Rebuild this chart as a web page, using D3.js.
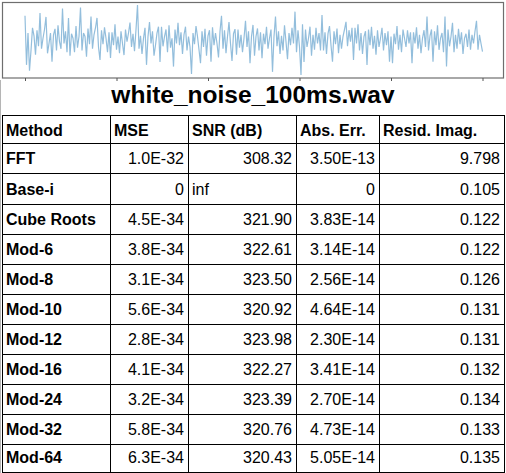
<!DOCTYPE html>
<html>
<head>
<meta charset="utf-8">
<script src="https://cdn.jsdelivr.net/npm/d3@7"></script>
<style>
  body { margin: 0; background: #fff; }
  text { font-family: "Liberation Sans", Arial, sans-serif; }
</style>
</head>
<body>
<div id="chart"></div>
<script>
// waveform amplitude (roughly one sample every 1.5 px)
const waveform = [
    0.69, -0.71, 0.20, -0.88, -0.30, 0.35, 0.12, -0.42, 0.28, -0.18,
    0.77, -0.25, 0.05, 0.30, 0.66, -0.38, -0.10, 0.20, -0.62, 0.15,
    0.32, -0.30, 0.42, -0.05, -0.25, 0.90, -0.10, 0.25, -0.35, 0.63,
    -0.45, 0.18, 0.05, -0.35, 0.40, -0.22, 0.10, 0.93, -0.30, 0.20,
    0.10, -0.48, 0.33, -0.12, 0.67, -0.25, 0.15, 0.35, 0.63, -0.20,
    -0.57, 0.28, -0.12, 0.36, 0.05, -0.35, 0.22, -0.51, 0.22, -0.15,
    0.45, -0.28, 0.10, -0.38, 0.25, -0.10, -0.43, 0.30, -0.05, 0.20,
    0.50, -0.20, 0.18, -0.32, 0.30, 1.00, -0.25, 0.12, -0.40, 0.05,
    0.35, -0.71, 0.10, 0.51, -0.10, 0.25, -0.45, -0.15, 0.20, 0.38,
    -0.63, 0.38, -0.18, 0.10, 0.30, -0.35, 0.42, -0.22, 0.05, -0.76,
    0.30, -0.10, 0.49, -0.15, 0.22, -0.40, 0.15, 0.38, -0.30, 0.10,
    -0.20, -0.97, 0.20, -0.12, 0.40, 0.10, -0.28, -0.66, 0.25, -0.20,
    0.32, -0.45, 0.12, 0.28, -0.62, 0.36, -0.15, 0.20, -0.10, -0.50,
    0.25, 0.69, -0.25, 0.28, -0.38, 0.10, 0.51, -0.10, -0.60, 0.18,
    0.31, -0.42, 0.30, -0.22, 0.15, -0.35, 0.05, 0.55, -0.20, 0.25,
    -0.66, 0.10, 0.43, -0.45, 0.10, 0.33, -0.30, 0.22, -0.52, 0.18,
    -0.12, 0.38, -0.25, 0.05, 0.30, -0.91, 0.10, 0.67, -0.18, 0.25,
    -0.40, 0.12, -0.30, 0.42, -0.05, -0.55, 0.20, -0.15, 0.35, -0.10,
    0.81, -0.35, 0.28, -0.20, -1.00, 0.45, -0.63, 0.30, -0.20, 0.05,
    0.38, -0.45, 0.15, -0.28, 0.35, -0.10, 0.20, -0.30, 0.71, -0.30,
    0.22, -0.40, 0.18, 0.40, -0.15, -0.62, 0.25, -0.12, 0.33, -0.38,
    0.15, -0.25, 0.10, 0.30, 0.52, -0.18, 0.28, -0.05, 0.35, -0.57,
    0.35, -0.10, 0.45, -0.30, 0.20, -0.40, 0.10, 0.25, -0.71, 0.30,
    -0.15, 0.38, -0.25, 0.12, -0.42, 0.28, -0.20, 0.05, 0.35, -0.30,
    0.20, -0.15, 0.25, -0.62, 0.10, -0.66, 0.18, -0.12, 0.40, -0.28,
    0.15, -0.35, 0.30, 0.05, -0.20, 0.28, -0.10, 0.22, -0.66, 0.22,
    -0.10, 0.36, -0.25, 0.15, -0.38, 0.05, 0.28, -0.20, 0.67, -0.30,
    0.12, 0.30, -0.62, 0.25, -0.15, 0.42, -0.28, 0.05, 0.20, -0.35,
    0.67, -0.76, 0.30, -0.18, 0.10, 0.49, -0.35, 0.15, -0.25, 0.32,
    -0.12, 0.22, -0.40, 0.05, 0.18, -0.20, 0.30, -0.28, 0.15, -0.10,
    0.25, 0.55, -0.28, 0.15, -0.10, -0.33
];
const durationMs = 100;
const timeTicks = [0, 20, 40, 60, 80, 100];

const title = "white_noise_100ms.wav";
const headers = ["Method", "MSE", "SNR (dB)", "Abs. Err.", "Resid. Imag."];
const methods = ["FFT", "Base-i", "Cube Roots", "Mod-6", "Mod-8", "Mod-10", "Mod-12", "Mod-16", "Mod-24", "Mod-32", "Mod-64"];
const mse = ["1.0E-32", "0", "4.5E-34", "3.8E-34", "3.1E-34", "5.6E-34", "2.8E-34", "4.1E-34", "3.2E-34", "5.8E-34", "6.3E-34"];
const snr = ["308.32", "inf", "321.90", "322.61", "323.50", "320.92", "323.98", "322.27", "323.39", "320.76", "320.43"];
const absErr = ["3.50E-13", "0", "3.83E-14", "3.14E-14", "2.56E-14", "4.64E-14", "2.30E-14", "3.41E-14", "2.70E-14", "4.73E-14", "5.05E-14"];
const residImag = ["9.798", "0.105", "0.122", "0.122", "0.126", "0.131", "0.131", "0.132", "0.134", "0.133", "0.135"];

const W = 506, H = 473;
const svg = d3.select("#chart").append("svg")
    .attr("width", W)
    .attr("height", H);

svg.append("rect").attr("width", W).attr("height", H).attr("fill", "#fff");

// ---- waveform strip ----
const x = d3.scaleLinear().domain([0, durationMs]).range([25, 482.5]);
const y = d3.scaleLinear().domain([-1, 1]).range([75, 5]);
const dt = durationMs / (waveform.length - 1);

svg.append("rect")
    .attr("x", 2.5).attr("y", 2.5)
    .attr("width", 501).attr("height", 75.5)
    .attr("fill", "none")
    .attr("stroke", "#6e6e6e")
    .attr("stroke-width", 1.2);

const line = d3.line()
    .x((d, i) => x(i * dt))
    .y(d => y(d));

svg.append("path")
    .datum(waveform)
    .attr("d", line)
    .attr("fill", "none")
    .attr("stroke", "#93bedc")
    .attr("stroke-width", 1.2);

// tick marks only, no labels
const xAxis = d3.axisBottom(x).tickValues(timeTicks).tickSize(3).tickFormat("");
const ax = svg.append("g")
    .attr("transform", "translate(0,78)")
    .call(xAxis);
ax.select(".domain").remove();
ax.selectAll("line").attr("stroke", "#555");

// ---- title ----
svg.append("text")
    .attr("x", 253)
    .attr("y", 103)
    .attr("text-anchor", "middle")
    .style("font-size", "24.5px")
    .style("font-weight", "bold")
    .text(title);

// ---- table ----
const rows = methods.map((m, i) => [m, mse[i], snr[i], absErr[i], residImag[i]]);
const colEdges = [2, 110, 188, 296, 379, 504];
const tableTop = 115, headerBottom = 143.3, rowH = 30.1, tableBottom = 472;
const rowY = d3.scaleLinear().domain([0, 1]).range([headerBottom, headerBottom + rowH]);
const rowBottom = i => i === rows.length - 1 ? tableBottom : rowY(i + 1);
const pad = 4;

// left grey frame edge
svg.append("line")
    .attr("x1", 0.5).attr("x2", 0.5).attr("y1", 80).attr("y2", H)
    .attr("stroke", "#b5b5b5").attr("stroke-width", 1);

const grid = svg.append("g").attr("stroke", "#000").attr("stroke-width", 1);
// horizontal lines
const hLines = [tableTop].concat(d3.range(rows.length).map(k => rowY(k)), [tableBottom]);
grid.selectAll(".h").data(hLines).enter().append("line")
    .attr("x1", colEdges[0]).attr("x2", colEdges[colEdges.length - 1] + 1)
    .attr("y1", d => Math.round(d) + 0.5).attr("y2", d => Math.round(d) + 0.5);
// vertical lines
grid.selectAll(".v").data(colEdges).enter().append("line")
    .attr("x1", d => d + 0.5).attr("x2", d => d + 0.5)
    .attr("y1", tableTop).attr("y2", Math.round(tableBottom) + 0.5);

function isNum(s) { return !isNaN(+s); }

// header (text sits at the bottom of its cell)
svg.append("g").selectAll("text").data(headers).enter().append("text")
    .attr("x", (d, j) => colEdges[j] + pad)
    .attr("y", headerBottom - 7.5)
    .style("font-size", "16px")
    .style("font-weight", "bold")
    .text(d => d);

// body
rows.forEach((r, i) => {
    svg.append("g").selectAll("text").data(r).enter().append("text")
        .attr("x", (d, j) => (j > 0 && isNum(d)) ? colEdges[j + 1] - pad : colEdges[j] + pad)
        .attr("y", rowBottom(i) - 9)
        .attr("text-anchor", (d, j) => (j > 0 && isNum(d)) ? "end" : "start")
        .style("font-size", "16px")
        .style("font-weight", (d, j) => j === 0 ? "bold" : "normal")
        .text(d => d);
});
</script>
</body>
</html>
